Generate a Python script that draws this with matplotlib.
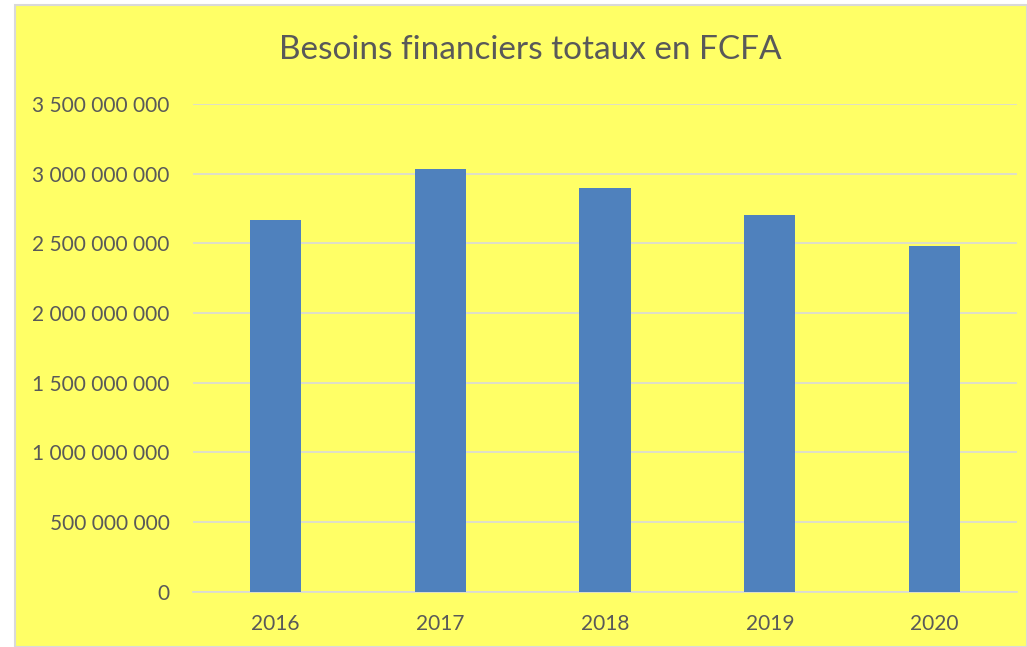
import matplotlib
matplotlib.use("Agg")
import matplotlib.pyplot as plt
from matplotlib.patches import Rectangle
from matplotlib.ticker import FuncFormatter

# Donnees
annees = ["2016", "2017", "2018", "2019", "2020"]
besoins = [2669000000, 3036000000, 2894000000, 2700000000, 2484000000]

plt.rcParams["font.family"] = ["Lato", "DejaVu Sans"]

W, H = 1027, 647
fig = plt.figure(figsize=(W / 100, H / 100), dpi=100)
fig.patch.set_facecolor("white")

# zone jaune du graphique avec bordure grise (sous les axes)
fig.patches.append(Rectangle((15 / W, 0), 1 - 15 / W, 1 - 5 / H,
                             transform=fig.transFigure, facecolor="#FFFF66",
                             edgecolor="#D9D9D9", lw=1.5, zorder=-10))

ax = fig.add_axes([193 / W, 1 - 591.5 / H, (1017 - 193) / W, (591.5 - 104) / H])
ax.set_facecolor("none")

x = range(len(annees))
ax.bar(x, besoins, width=0.31, color="#4F81BD", zorder=3)

ax.set_xlim(-0.5, len(annees) - 0.5)
ax.set_ylim(0, 3.5e9)
ax.set_yticks([i * 5e8 for i in range(8)])
ax.yaxis.set_major_formatter(FuncFormatter(lambda v, p: f"{int(v):,}".replace(",", " ")))
ax.set_xticks(list(x))
ax.set_xticklabels(annees)

ax.grid(axis="y", color="#D9D9D9", lw=1.2, zorder=0)
for s in ["top", "right", "left"]:
    ax.spines[s].set_visible(False)
ax.spines["bottom"].set_color("#D9D9D9")
ax.spines["bottom"].set_linewidth(1.2)
ax.tick_params(axis="both", length=0, labelsize=15, colors="#595959")
ax.tick_params(axis="y", pad=17)
ax.tick_params(axis="x", pad=16)

fig.text(530 / W, 1 - 50 / H, "Besoins financiers totaux en FCFA",
         ha="center", va="center", fontsize=24, color="#595959")

fig.savefig("out.png", dpi=100)
